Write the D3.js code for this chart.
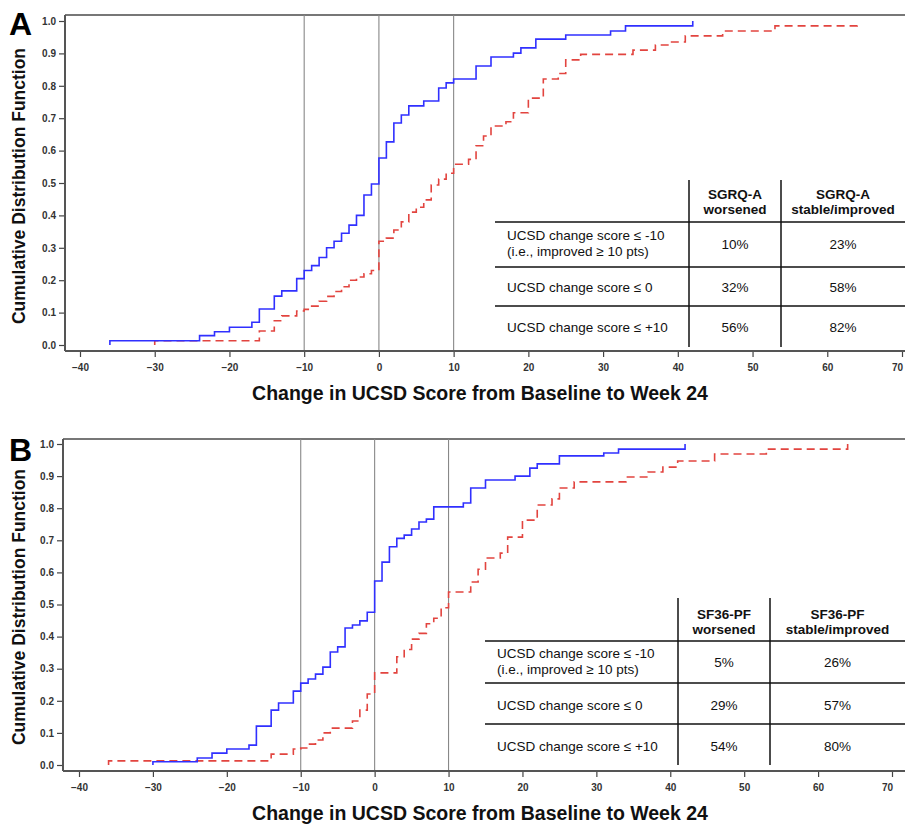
<!DOCTYPE html>
<html>
<head>
<meta charset="utf-8">
<script src="https://cdn.jsdelivr.net/npm/d3@7"></script>
<style>
  html, body { margin: 0; padding: 0; background: #fff; }
  svg { display: block; font-family: Arial, "Liberation Sans", sans-serif; }
</style>
</head>
<body>
<svg id="chart" width="905" height="824"></svg>
<script>
// ---------- DATA ----------
const xTicks = [-40, -30, -20, -10, 0, 10, 20, 30, 40, 50, 60, 70];
const yTicks = [0, 0.1, 0.2, 0.3, 0.4, 0.5, 0.6, 0.7, 0.8, 0.9, 1.0];
const refLines = [-10, 0, 10];

// Panel A — stable/improved (blue, solid)
const aBlueX = [-36,-24,-22,-20,-17,-16,-14,-13,-11,-10,-9,-8,-7,-6,-5,-4,-3,-2,-1,0,1,2,3,4,6,8,9,10,13,15,18,19,21,25,31,33,42];
const aBlueP = [0.013,0.029,0.041,0.055,0.07,0.111,0.151,0.167,0.205,0.23,0.245,0.27,0.3,0.32,0.345,0.37,0.4,0.463,0.497,0.577,0.627,0.685,0.71,0.738,0.753,0.793,0.809,0.821,0.861,0.889,0.901,0.917,0.944,0.957,0.969,0.985,1.0];
// Panel A — worsened (red, dashed)
const aRedX = [-30,-16,-14,-13,-11,-10,-9,-8,-7,-6,-5,-4,-3,-2,-1,0,1,2,3,4,5,6,7,8,9,10,12,13,14,15,17,18,20,22,24,25,27,34,37,39,41,46,53,64];
const aRedP = [0.013,0.043,0.075,0.09,0.105,0.11,0.12,0.135,0.15,0.165,0.18,0.2,0.21,0.22,0.23,0.32,0.33,0.355,0.38,0.41,0.425,0.448,0.494,0.512,0.53,0.558,0.573,0.615,0.645,0.676,0.689,0.717,0.762,0.821,0.838,0.88,0.897,0.91,0.926,0.935,0.954,0.969,0.985,1.0];

// Panel B — stable/improved (blue, solid)
const bBlueX = [-30,-24,-22,-20,-17,-16,-14,-13,-11,-10,-9,-8,-7,-6,-5,-4,-3,-2,-1,0,1,2,3,4,5,6,7,8,12,13,15,19,21,22,25,31,33,42];
const bBlueP = [0.01,0.022,0.037,0.05,0.062,0.121,0.171,0.193,0.23,0.255,0.268,0.283,0.305,0.352,0.368,0.427,0.436,0.449,0.476,0.573,0.632,0.68,0.706,0.716,0.735,0.757,0.766,0.804,0.816,0.863,0.888,0.9,0.925,0.938,0.963,0.972,0.984,1.0];
// Panel B — worsened (red, dashed)
const bRedX = [-36,-14,-11,-10,-9,-8,-7,-6,-3,-2,-1,0,3,4,5,6,7,8,9,10,13,14,15,17,18,20,22,24,25,27,34,37,39,41,46,53,64];
const bRedP = [0.013,0.034,0.05,0.053,0.065,0.078,0.1,0.115,0.137,0.171,0.221,0.287,0.337,0.36,0.392,0.41,0.44,0.457,0.49,0.539,0.57,0.61,0.645,0.66,0.71,0.763,0.81,0.829,0.863,0.882,0.897,0.913,0.928,0.947,0.969,0.984,1.0];

// Tables
const rowLabels = [["UCSD change score \u2264 -10", "(i.e., improved \u2265 10 pts)"], ["UCSD change score \u2264 0"], ["UCSD change score \u2264 +10"]];
const aHeaders = [["SGRQ-A", "worsened"], ["SGRQ-A", "stable/improved"]];
const aWorsened = ["10%", "32%", "56%"];
const aStable = ["23%", "58%", "82%"];
const bHeaders = [["SF36-PF", "worsened"], ["SF36-PF", "stable/improved"]];
const bWorsened = ["5%", "29%", "54%"];
const bStable = ["26%", "57%", "80%"];

const xTitle = "Change in UCSD Score from Baseline to Week 24";
const yTitle = "Cumulative Distribution Function";

// ---------- DRAW ----------
const svg = d3.select("#chart");

function drawPanel(cfg) {
  const g = svg.append("g");
  const x = d3.scaleLinear().domain([-40, 70]).range(cfg.xRange);
  const y = d3.scaleLinear().domain([0, 1]).range([cfg.y0, cfg.y1]);

  // top border
  g.append("line").attr("x1", cfg.left).attr("x2", 905).attr("y1", cfg.top).attr("y2", cfg.top)
    .attr("stroke", "#777").attr("stroke-width", 2);

  // reference lines
  g.selectAll("line.ref").data(refLines).join("line").attr("class", "ref")
    .attr("x1", d => x(d)).attr("x2", d => x(d))
    .attr("y1", cfg.top).attr("y2", cfg.bottom)
    .attr("stroke", "#888").attr("stroke-width", 1.1);

  // y axis
  const yAxis = d3.axisLeft(y).tickValues(yTicks).tickFormat(d3.format(".1f")).tickSize(6).tickPadding(3);
  const ya = g.append("g").attr("transform", `translate(${cfg.left},0)`).call(yAxis);
  ya.select(".domain").remove();
  g.append("line").attr("x1", cfg.left).attr("x2", cfg.left).attr("y1", cfg.top).attr("y2", cfg.bottom)
    .attr("stroke", "#555").attr("stroke-width", 2);

  // x axis
  const xAxis = d3.axisBottom(x).tickValues(xTicks).tickFormat(d3.format("d")).tickSize(6).tickPadding(7);
  const xa = g.append("g").attr("transform", `translate(0,${cfg.bottom})`).call(xAxis);
  xa.select(".domain").remove();
  g.append("line").attr("x1", cfg.left).attr("x2", 905).attr("y1", cfg.bottom).attr("y2", cfg.bottom)
    .attr("stroke", "#555").attr("stroke-width", 2);

  [ya, xa].forEach(a => {
    a.selectAll(".tick line").attr("stroke", "#444").attr("stroke-width", 1.2);
    a.selectAll(".tick text").attr("font-size", 10).attr("font-weight", "bold").attr("fill", "#333")
      .attr("font-family", "Arial, 'Liberation Sans', sans-serif");
  });
  // keep the last x label inside the picture
  xa.selectAll(".tick text").filter(d => d === 70).attr("text-anchor", "end").attr("dx", "0.05em");

  // step curves
  const line = d3.line().x(d => x(d[0])).y(d => y(d[1])).curve(d3.curveStepAfter);
  function series(xs, ps) {
    const pts = [[xs[0], 0]];
    xs.forEach((v, i) => pts.push([v, ps[i]]));
    return pts;
  }
  g.append("path").datum(series(cfg.redX, cfg.redP)).attr("d", line)
    .attr("fill", "none").attr("stroke", "#e2443f").attr("stroke-width", 1.6).attr("stroke-dasharray", "8,5");
  g.append("path").datum(series(cfg.blueX, cfg.blueP)).attr("d", line)
    .attr("fill", "none").attr("stroke", "#3030ff").attr("stroke-width", 1.6);

  // panel letter
  g.append("text").attr("x", 9).attr("y", cfg.letterY).text(cfg.letter)
    .attr("font-size", 32).attr("font-weight", "bold").attr("fill", "#000");

  // axis titles
  g.append("text").attr("x", 480).attr("y", cfg.xTitleY).attr("text-anchor", "middle")
    .attr("font-size", 19.5).attr("font-weight", "bold").attr("fill", "#111").text(xTitle);
  g.append("text").attr("transform", `translate(25,${cfg.yTitleC}) rotate(-90)`).attr("text-anchor", "middle")
    .attr("font-size", 17.5).attr("font-weight", "bold").attr("fill", "#111").text(yTitle);

  // table
  const t = cfg.table;
  const tg = g.append("g");
  tg.selectAll("line.h").data(t.hLines).join("line").attr("class", "h")
    .attr("x1", t.left).attr("x2", 905).attr("y1", d => d).attr("y2", d => d)
    .attr("stroke", "#111").attr("stroke-width", 1.5);
  tg.selectAll("line.v").data([t.c1, t.c2]).join("line").attr("class", "v")
    .attr("x1", d => d).attr("x2", d => d).attr("y1", t.top).attr("y2", t.bottom)
    .attr("stroke", "#111").attr("stroke-width", 1.5);
  const colCenters = [(t.c1 + t.c2) / 2, (t.c2 + 905) / 2];
  cfg.headers.forEach((h, i) => {
    h.forEach((s, j) => {
      tg.append("text").attr("x", colCenters[i]).attr("y", t.headY + j * 15).attr("text-anchor", "middle")
        .attr("font-size", 13.5).attr("font-weight", "bold").attr("fill", "#111").text(s);
    });
  });
  rowLabels.forEach((lab, r) => {
    const cy = t.rowC[r];
    lab.forEach((s, j) => {
      const yy = lab.length === 1 ? cy + 5 : cy - 8 + j * 16 + 5 - 1;
      tg.append("text").attr("x", t.left + 12).attr("y", yy).attr("font-size", 13.5).attr("fill", "#111").text(s);
    });
    tg.append("text").attr("x", colCenters[0]).attr("y", cy + 5).attr("text-anchor", "middle")
      .attr("font-size", 13.5).attr("fill", "#111").text(cfg.worsened[r]);
    tg.append("text").attr("x", colCenters[1]).attr("y", cy + 5).attr("text-anchor", "middle")
      .attr("font-size", 13.5).attr("fill", "#111").text(cfg.stable[r]);
  });
}

drawPanel({
  letter: "A", letterY: 35,
  xRange: [80, 902], y0: 345, y1: 21, left: 65, top: 15, bottom: 351,
  xTitleY: 400, yTitleC: 186,
  blueX: aBlueX, blueP: aBlueP, redX: aRedX, redP: aRedP,
  headers: aHeaders, worsened: aWorsened, stable: aStable,
  table: { left: 495, c1: 689, c2: 781, top: 180, bottom: 347, hLines: [222, 267, 306], headY: 199, rowC: [244, 287, 327] }
});

drawPanel({
  letter: "B", letterY: 461,
  xRange: [79, 892], y0: 765, y1: 444, left: 63, top: 439, bottom: 771,
  xTitleY: 820, yTitleC: 607,
  blueX: bBlueX, blueP: bBlueP, redX: bRedX, redP: bRedP,
  headers: bHeaders, worsened: bWorsened, stable: bStable,
  table: { left: 485, c1: 678, c2: 770, top: 598, bottom: 765, hLines: [641, 683, 724], headY: 619, rowC: [662, 705, 746] }
});
</script>
</body>
</html>
